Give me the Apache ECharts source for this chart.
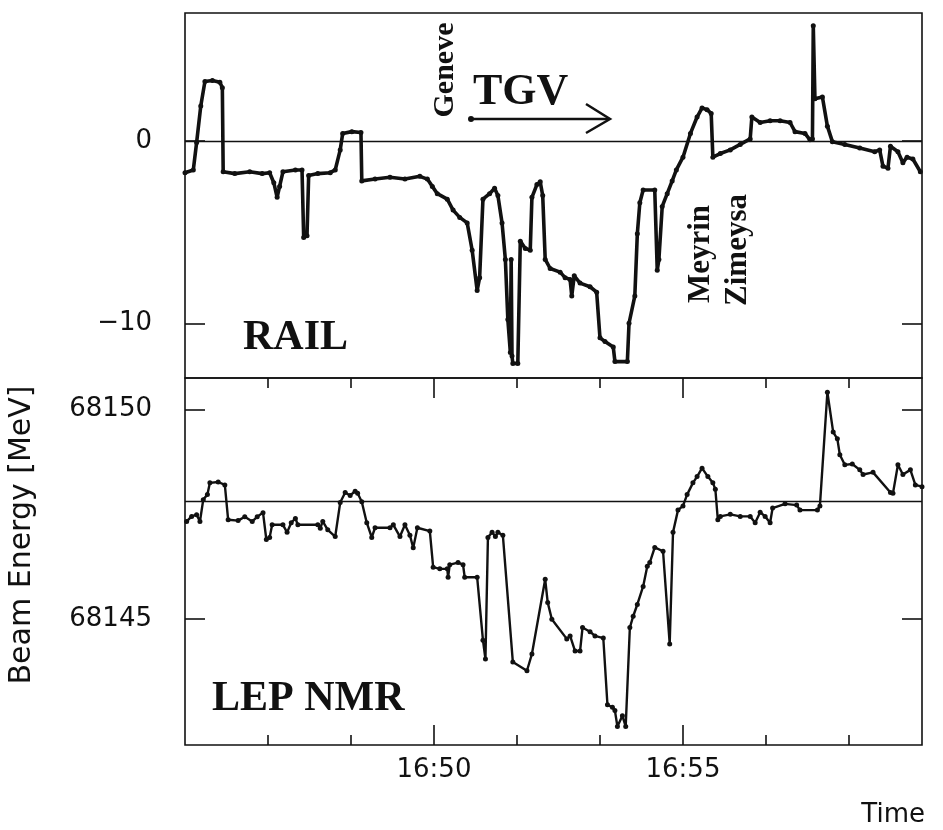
<!DOCTYPE html>
<html>
<head>
<meta charset="utf-8">
<script src="https://cdn.jsdelivr.net/npm/echarts@6/dist/echarts.min.js"></script>
<style>
  html, body { margin: 0; padding: 0; background: #fff; }
  #chart { width: 943px; height: 830px; }
</style>
</head>
<body>
<div id="chart"></div>
<script>
// time in seconds after 16:45:00
const railTimes = [0, 10, 14, 19, 24, 33, 42, 45, 46, 60, 78, 93, 102, 107, 111, 114, 118, 133, 141, 143, 147, 149,
    160, 175, 181, 187, 190, 201, 212, 213, 229, 247, 265, 283, 292, 298, 304, 316, 323, 331, 340, 346, 352, 355,
    359, 367, 373, 377, 382, 386, 389, 392, 393, 394, 395, 401, 404, 410, 416, 418, 424, 428, 431, 434, 440, 452,
    458, 464, 466, 469, 476, 488, 496, 500, 506, 516, 518, 533, 535, 542, 545, 548, 552, 566, 569, 571, 575, 581,
    587, 592, 600, 609, 617, 623, 629, 634, 636, 645, 657, 669, 681, 683, 693, 705, 717, 729, 735, 747, 753, 756,
    757, 759, 768, 774, 780, 795, 813, 831, 837, 841, 847, 850, 859, 865, 870, 877, 886];
const railValues = [-1.75, -1.6, -0.1, 1.9, 3.25, 3.3, 3.2, 2.9, -1.7, -1.8, -1.7, -1.8, -1.75, -2.3, -3.1, -2.5, -1.7,
    -1.6, -1.6, -5.3, -5.2, -1.9, -1.8, -1.75, -1.6, -0.5, 0.4, 0.5, 0.45, -2.2, -2.1, -2.0, -2.1, -1.95, -2.1, -2.5,
    -2.9, -3.2, -3.8, -4.2, -4.5, -6.0, -8.2, -7.5, -3.2, -2.9, -2.6, -3.0, -4.5, -6.5, -9.8, -11.6, -6.5, -11.8,
    -12.2, -12.2, -5.5, -5.9, -6.0, -3.1, -2.4, -2.25, -3.0, -6.5, -7.0, -7.2, -7.5, -7.6, -8.5, -7.4, -7.8, -8.0,
    -8.3, -10.8, -11.0, -11.3, -12.1, -12.1, -10.0, -8.5, -5.1, -3.4, -2.7, -2.7, -7.1, -6.5, -3.6, -2.9, -2.2, -1.6,
    -0.9, 0.4, 1.3, 1.8, 1.7, 1.5, -0.9, -0.7, -0.5, -0.2, 0.1, 1.3, 1.0, 1.1, 1.1, 1.0, 0.5, 0.4, 0.05, 0.1, 6.3,
    2.3, 2.4, 0.8, -0.05, -0.2, -0.4, -0.6, -0.5, -1.4, -1.5, -0.3, -0.6, -1.2, -0.9, -1.0, -1.7];

const nmrTimes = [2, 8, 14, 18, 22, 27, 30, 40, 48, 52, 64, 72, 81, 87, 94, 98, 102, 105, 118, 123, 128, 133, 136,
    160, 163, 166, 172, 181, 187, 193, 199, 205, 208, 213, 219, 225, 229, 247, 251, 259, 265, 271, 275, 280, 295,
    299, 307, 316, 317, 319, 329, 335, 337, 352, 359, 362, 365, 370, 374, 377, 383, 395, 412, 418, 434, 437, 442,
    460, 464, 470, 476, 479, 488, 494, 504, 509, 515, 518, 521, 527, 531, 536, 540, 545, 552, 557, 560, 566, 576,
    584, 588, 594, 600, 605, 612, 617, 623, 630, 636, 639, 642, 645, 657, 669, 681, 687, 693, 699, 705, 708, 723,
    737, 741, 762, 765, 774, 781, 786, 789, 795, 804, 813, 817, 829, 850, 853, 859, 865, 874, 880, 888];
const nmrValues = [68147.33, 68147.45, 68147.49, 68147.33, 68147.85, 68147.97, 68148.25, 68148.27, 68148.2,
    68147.37, 68147.35, 68147.44, 68147.33, 68147.44, 68147.54, 68146.9, 68146.95, 68147.25, 68147.25, 68147.07,
    68147.3, 68147.4, 68147.25, 68147.25, 68147.17, 68147.33, 68147.13, 68146.97, 68147.78, 68148.02, 68147.95,
    68148.05, 68148.0, 68147.8, 68147.3, 68146.95, 68147.18, 68147.18, 68147.25, 68146.97, 68147.25, 68147.0,
    68146.7, 68147.18, 68147.1, 68146.24, 68146.2, 68146.2, 68146.0, 68146.3, 68146.35, 68146.3, 68146.0, 68146.0,
    68144.5, 68144.05, 68146.95, 68147.07, 68146.97, 68147.07, 68147.0, 68143.98, 68143.77, 68144.17, 68145.95,
    68145.4, 68145.0, 68144.53, 68144.6, 68144.24, 68144.24, 68144.8, 68144.7, 68144.6, 68144.55, 68142.96,
    68142.9, 68142.82, 68142.44, 68142.7, 68142.44, 68144.8, 68145.07, 68145.35, 68145.78, 68146.26, 68146.35,
    68146.71, 68146.62, 68144.41, 68147.07, 68147.6, 68147.7, 68147.97, 68148.25, 68148.4, 68148.6, 68148.4,
    68148.25, 68148.1, 68147.37, 68147.45, 68147.5, 68147.45, 68147.45, 68147.3, 68147.55, 68147.45, 68147.3,
    68147.65, 68147.75, 68147.72, 68147.6, 68147.6, 68147.7, 68150.41, 68149.46, 68149.3, 68148.92, 68148.68,
    68148.7, 68148.56, 68148.45, 68148.5, 68148.02, 68148.0, 68148.68, 68148.45, 68148.56, 68148.2, 68148.16];

const railZero = 0;
const nmrReference = 68147.8;
const minorTicks = [100, 200, 400, 500, 700, 800];
const majorTicks = [300, 600];
const timeLabels = { 300: '16:50', 600: '16:55' };
const railTicks = [-10, 0];
const nmrTicks = [68145, 68150];

const ink = '#111';
const sansFont = '"DejaVu Sans", sans-serif';
const serifFont = '"Liberation Serif", "Times New Roman", serif';

const chartDom = document.getElementById('chart');
const chart = echarts.init(chartDom);

function xAxisFor(grid, position, ticks, length, labels) {
    return {
        type: 'value', gridIndex: grid, position: position, min: 0, max: 888,
        axisLine: { show: false, onZero: false },
        splitLine: { show: false },
        axisTick: { show: ticks.length > 0, inside: true, length: length, customValues: ticks,
            lineStyle: { color: ink, width: 1.6 } },
        axisLabel: labels ? {
            show: true, customValues: labels, margin: 12, color: ink, fontSize: 26, fontFamily: sansFont,
            formatter: v => timeLabels[Math.round(v)] || ''
        } : { show: false }
    };
}

function yAxisFor(grid, position, min, max, ticks, labels) {
    return {
        type: 'value', gridIndex: grid, position: position, min: min, max: max,
        axisLine: { show: false, onZero: false },
        splitLine: { show: false },
        axisTick: { show: true, inside: true, length: 20, customValues: ticks,
            lineStyle: { color: ink, width: 1.6 } },
        axisLabel: labels ? {
            show: true, customValues: labels, margin: 33, color: ink, fontSize: 26, fontFamily: sansFont,
            formatter: v => (v < 0 ? '\u2212' + Math.abs(v) : String(v))
        } : { show: false }
    };
}

const option = {
    animation: false,
    backgroundColor: '#fff',
    grid: [
        { left: 185, top: 13, width: 737, height: 365, show: true, borderColor: ink, borderWidth: 1.6, backgroundColor: 'transparent' },
        { left: 185, top: 378, width: 737, height: 367, show: true, borderColor: ink, borderWidth: 1.6, backgroundColor: 'transparent' }
    ],
    xAxis: [
        xAxisFor(0, 'bottom', [], 0, null),
        xAxisFor(1, 'bottom', minorTicks, 10, majorTicks),
        xAxisFor(1, 'bottom', majorTicks, 20, null),
        xAxisFor(1, 'top', minorTicks, 10, null),
        xAxisFor(1, 'top', majorTicks, 20, null)
    ],
    yAxis: [
        yAxisFor(0, 'left', -13, 7, railTicks, railTicks),
        yAxisFor(0, 'right', -13, 7, railTicks, null),
        yAxisFor(1, 'left', 68142, 68150.75, nmrTicks, nmrTicks),
        yAxisFor(1, 'right', 68142, 68150.75, nmrTicks, null)
    ],
    series: [
        {
            name: 'RAIL', type: 'line', xAxisIndex: 0, yAxisIndex: 0,
            data: railTimes.map((t, i) => [t, railValues[i]]),
            showSymbol: true, showAllSymbol: true, symbol: 'circle', symbolSize: 5,
            itemStyle: { color: ink },
            lineStyle: { color: ink, width: 3.6 },
            markLine: {
                silent: true, symbol: 'none', label: { show: false },
                lineStyle: { color: ink, width: 1.3, type: 'solid' },
                data: [{ yAxis: railZero }]
            }
        },
        {
            name: 'LEP NMR', type: 'line', xAxisIndex: 1, yAxisIndex: 2,
            data: nmrTimes.map((t, i) => [t, nmrValues[i]]),
            showSymbol: true, showAllSymbol: true, symbol: 'circle', symbolSize: 5,
            itemStyle: { color: ink },
            lineStyle: { color: ink, width: 2.4 },
            markLine: {
                silent: true, symbol: 'none', label: { show: false },
                lineStyle: { color: ink, width: 1.3, type: 'solid' },
                data: [{ yAxis: nmrReference }]
            }
        }
    ],
    graphic: [
        { type: 'text', x: 22, y: 535, rotation: Math.PI / 2,
          style: { text: 'Beam Energy [MeV]', align: 'center', verticalAlign: 'middle', fill: ink, fontSize: 30, fontFamily: sansFont } },
        { type: 'text', x: 925, y: 815,
          style: { text: 'Time', align: 'right', verticalAlign: 'middle', fill: ink, fontSize: 26, fontFamily: sansFont } },
        { type: 'text', x: 243, y: 338,
          style: { text: 'RAIL', align: 'left', verticalAlign: 'middle', fill: ink, fontSize: 42, fontWeight: 'bold', fontFamily: serifFont } },
        { type: 'text', x: 212, y: 699,
          style: { text: 'LEP NMR', align: 'left', verticalAlign: 'middle', fill: ink, fontSize: 42, fontWeight: 'bold', fontFamily: serifFont } },
        { type: 'text', x: 473, y: 93,
          style: { text: 'TGV', align: 'left', verticalAlign: 'middle', fill: ink, fontSize: 44, fontWeight: 'bold', fontFamily: serifFont } },
        { type: 'text', x: 445, y: 70, rotation: Math.PI / 2,
          style: { text: 'Geneve', align: 'center', verticalAlign: 'middle', fill: ink, fontSize: 30, fontWeight: 'bold', fontFamily: serifFont } },
        { type: 'text', x: 701, y: 254, rotation: Math.PI / 2,
          style: { text: 'Meyrin', align: 'center', verticalAlign: 'middle', fill: ink, fontSize: 31, fontWeight: 'bold', fontFamily: serifFont } },
        { type: 'text', x: 738, y: 250, rotation: Math.PI / 2,
          style: { text: 'Zimeysa', align: 'center', verticalAlign: 'middle', fill: ink, fontSize: 31, fontWeight: 'bold', fontFamily: serifFont } },
        // TGV arrow
        { type: 'line', shape: { x1: 470, y1: 119, x2: 609, y2: 119 }, style: { stroke: ink, lineWidth: 2.5 } },
        { type: 'polyline', shape: { points: [[586, 104], [610, 119], [586, 133]] }, style: { stroke: ink, lineWidth: 2.5, fill: null } },
        { type: 'circle', shape: { cx: 471, cy: 119, r: 3 }, style: { fill: ink } }
    ]
};

chart.setOption(option);
</script>
</body>
</html>
